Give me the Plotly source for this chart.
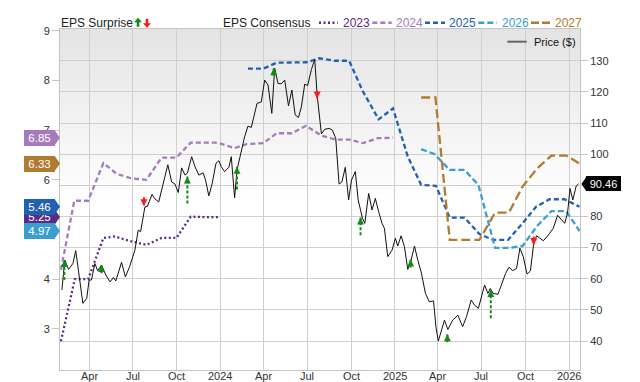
import plotly.graph_objects as go

# ---------------- data ----------------
price_dates = [
    "2023-02-03","2023-02-09","2023-02-17","2023-02-26","2023-03-04","2023-03-10","2023-03-19","2023-03-27",
    "2023-04-01","2023-04-06","2023-04-13","2023-04-19","2023-04-27","2023-05-06","2023-05-15","2023-05-22",
    "2023-05-27","2023-06-08","2023-06-16","2023-06-25","2023-07-06","2023-07-13","2023-07-18","2023-07-27",
    "2023-08-01","2023-08-11","2023-08-16","2023-08-25","2023-09-03","2023-09-13","2023-09-21","2023-09-28",
    "2023-10-05","2023-10-12","2023-10-19","2023-10-24","2023-11-02","2023-11-09","2023-11-17","2023-11-26",
    "2023-12-01","2023-12-08","2023-12-15","2023-12-23","2023-12-29","2024-01-03","2024-01-10","2024-01-19",
    "2024-01-24","2024-01-31","2024-02-05","2024-02-14","2024-02-21","2024-02-28","2024-03-06","2024-03-18",
    "2024-03-27","2024-04-03","2024-04-10","2024-04-18","2024-04-24","2024-05-01","2024-05-08","2024-05-15",
    "2024-05-23","2024-05-30","2024-06-06","2024-06-13","2024-06-19","2024-06-26","2024-07-02","2024-07-10",
    "2024-07-17","2024-07-22","2024-07-31","2024-08-07","2024-08-16","2024-08-23","2024-08-30","2024-09-06",
    "2024-09-12","2024-09-19","2024-09-26","2024-10-02","2024-10-10","2024-10-16","2024-10-25","2024-10-30",
    "2024-11-07","2024-11-14","2024-11-21","2024-11-28","2024-12-05","2024-12-10","2024-12-17","2024-12-26",
    "2025-01-02","2025-01-07","2025-01-14","2025-01-21","2025-01-28","2025-02-04","2025-02-11","2025-02-18",
    "2025-02-25","2025-03-06","2025-03-14","2025-03-23","2025-03-28","2025-04-02","2025-04-08","2025-04-15",
    "2025-04-22","2025-05-02","2025-05-13","2025-05-23","2025-05-31","2025-06-10","2025-06-17","2025-06-25",
    "2025-07-08","2025-07-15","2025-07-20","2025-07-26","2025-08-05","2025-08-21","2025-08-28","2025-09-05",
    "2025-09-13","2025-09-20","2025-09-27","2025-10-05","2025-10-12","2025-10-19","2025-10-25","2025-11-01",
    "2025-11-08","2025-11-17","2025-11-29","2025-12-08","2025-12-15","2025-12-23","2025-12-29","2026-01-03",
    "2026-01-09","2026-01-16","2026-01-21",
]
price_values = [
    56.4, 66.0, 63.0, 64.9, 69.0, 62.8, 52.1, 53.7,
    59.6, 59.6, 64.9, 62.6, 64.4, 61.2, 59.0, 60.4,
    59.3, 65.3, 60.6, 63.9, 69.2, 75.6, 75.1, 83.1,
    83.2, 87.1, 85.8, 84.7, 90.8, 96.6, 91.1, 90.4,
    87.7, 95.6, 93.3, 93.9, 99.2, 96.0, 93.3, 94.0,
    91.7, 86.6, 90.6, 97.1, 97.9, 96.0, 94.4, 95.8,
    99.2, 86.0, 94.9, 101.3, 105.6, 109.0, 108.6, 116.3,
    116.8, 123.8, 122.2, 113.1, 127.6, 122.7, 122.6, 123.8,
    115.5, 120.6, 112.6, 111.8, 115.2, 122.5, 122.0, 127.2,
    130.4, 119.0, 106.5, 108.0, 108.3, 107.7, 105.1, 90.4,
    91.1, 95.8, 85.3, 91.7, 94.4, 85.3, 79.4, 77.8,
    87.4, 82.1, 85.8, 81.5, 77.8, 76.2, 67.1, 69.2,
    73.0, 70.5, 73.8, 70.3, 63.0, 66.0, 70.5, 66.0,
    62.2, 55.3, 52.6, 52.9, 44.6, 40.0, 43.0, 46.7,
    43.7, 46.7, 48.3, 44.6, 47.8, 53.2, 51.5, 50.5,
    58.0, 55.3, 56.9, 55.3, 55.0, 61.7, 63.7, 62.6,
    63.3, 69.8, 67.1, 61.5, 62.5, 71.4, 73.8, 73.0,
    72.2, 73.7, 76.2, 80.4, 79.1, 77.8, 81.2, 89.0,
    85.3, 89.8, 90.46,
]

eps2023_dates = ["2023-02-01","2023-03-02","2023-03-30","2023-05-01","2023-05-25","2023-06-29",
                 "2023-07-30","2023-08-31","2023-10-01","2023-10-31","2023-11-30","2023-12-31"]
eps2023_values = [2.75, 4.00, 4.00, 4.83, 4.86, 4.76, 4.69, 4.83, 4.83, 5.26, 5.25, 5.25]

eps2024_dates = ["2023-02-01","2023-03-01","2023-03-30","2023-05-01","2023-05-29","2023-06-29",
                 "2023-07-30","2023-08-31","2023-10-01","2023-10-31","2023-12-27","2024-01-31",
                 "2024-02-25","2024-03-31","2024-04-28","2024-05-30","2024-06-29","2024-07-31",
                 "2024-08-31","2024-09-28","2024-10-26","2024-11-26","2024-12-28"]
eps2024_values = [4.19, 5.58, 5.58, 6.34, 6.12, 6.03, 6.00, 6.45, 6.45, 6.75, 6.75, 6.64,
                  6.72, 6.74, 6.94, 6.94, 7.09, 6.89, 6.81, 6.81, 6.74, 6.84, 6.85]

eps2025_dates = ["2024-02-28","2024-03-31","2024-04-28","2024-06-30","2024-07-27","2024-08-28",
                 "2024-09-27","2024-10-26","2024-11-28","2024-12-28","2025-01-28","2025-02-25",
                 "2025-03-28","2025-04-26","2025-05-27","2025-06-27","2025-07-26","2025-08-26",
                 "2025-09-26","2025-10-24","2025-11-21","2025-12-22","2026-01-23"]
eps2025_values = [8.24, 8.24, 8.36, 8.37, 8.45, 8.40, 8.40, 7.78, 7.22, 7.44, 6.47, 5.90,
                  5.88, 5.24, 5.24, 4.91, 4.79, 4.79, 5.13, 5.46, 5.61, 5.61, 5.46]

eps2026_dates = ["2025-02-25","2025-03-25","2025-04-26","2025-05-27","2025-06-25","2025-07-30",
                 "2025-08-30","2025-09-26","2025-10-25","2025-11-25","2025-12-26","2026-01-23"]
eps2026_values = [6.62, 6.52, 6.20, 6.20, 5.90, 4.63, 4.63, 4.67, 5.06, 5.37, 5.37, 4.97]

eps2027_dates = ["2025-02-25","2025-03-27","2025-04-26","2025-06-27","2025-07-30","2025-08-28",
                 "2025-09-26","2025-10-27","2025-11-25","2025-12-26","2026-01-23"]
eps2027_values = [7.66, 7.66, 4.79, 4.79, 5.34, 5.34, 5.87, 6.24, 6.49, 6.49, 6.33]

surprise_dates = ["2023-02-08","2023-04-27","2023-07-25","2023-10-24","2024-02-05","2024-04-22",
                  "2024-07-22","2024-10-21","2025-02-03","2025-04-21","2025-07-21","2025-10-19"]
surprise_from = [59.6, 61.8, 86.2, 84.2, 88.7, 125.2, 120.3, 74.0, 63.6, 39.6, 47.3, 73.6]
surprise_to = [66.0, 64.4, 83.3, 92.8, 96.0, 127.6, 117.9, 79.7, 66.2, 42.2, 56.4, 70.8]

x_tick_vals = ["2023-04-01","2023-07-01","2023-10-01","2024-01-01","2024-04-01","2024-07-01",
               "2024-10-01","2025-01-01","2025-04-01","2025-07-01","2025-10-01","2026-01-01"]
x_tick_text = ["Apr","Jul","Oct","2024","Apr","Jul","Oct","2025","Apr","Jul","Oct","2026"]
eps_tick_vals = [3, 4, 5, 6, 7, 8, 9]
eps_tick_text = ["3", "4", "", "6", "7", "8", "9"]        # "5" sits hidden under the badges
price_tick_vals = [40, 50, 60, 70, 80, 90, 100, 110, 120, 130]
price_tick_text = ["40", "50", "60", "70", "80", "", "100", "110", "120", "130"]  # "90" hidden by price badge

# ---------------- style ----------------
C2023, C2024, C2025, C2026, C2027 = "#5b2a85", "#a67bbd", "#2062b0", "#3a9fcf", "#b07b2e"
GREEN, RED = "#138a13", "#ff1a1a"
GRID = "#cfcfcf"
FONT = "Liberation Sans"

L, R, T, B = 60, 60, 29, 12
W, H = 640, 382
PW, PH = W - L - R, H - T - B


def xp(px):
    return (px - L) / PW


def yp(py):
    return (H - B - py) / PH


fig = go.Figure()

series = [
    (eps2023_dates, eps2023_values, C2023, "2px,2.5px"),
    (eps2024_dates, eps2024_values, C2024, "5px,3px"),
    (eps2025_dates, eps2025_values, C2025, "5px,3px"),
    (eps2026_dates, eps2026_values, C2026, "6px,3px"),
    (eps2027_dates, eps2027_values, C2027, "9px,4px"),
]
for d, v, c, dash in series:
    fig.add_trace(go.Scatter(x=d, y=v, mode="lines", yaxis="y",
                             line=dict(color=c, width=2.3, dash=dash), hoverinfo="skip"))

fig.add_trace(go.Scatter(x=price_dates, y=price_values, mode="lines", yaxis="y2",
                         line=dict(color="#111111", width=1), hoverinfo="skip"))

# surprise arrows
for up, color in ((True, GREEN), (False, RED)):
    xs, ys, hx, hy = [], [], [], []
    for d, a, b in zip(surprise_dates, surprise_from, surprise_to):
        if (b > a) == up:
            xs += [d, d, None]
            ys += [a, b, None]
            hx.append(d)
            hy.append(b)
    fig.add_trace(go.Scatter(x=xs, y=ys, mode="lines", yaxis="y2",
                             line=dict(color=color, width=2, dash="3px,2px"), hoverinfo="skip"))
    fig.add_trace(go.Scatter(x=hx, y=hy, mode="markers", yaxis="y2",
                             marker=dict(symbol="arrow-up" if up else "arrow-down", size=7,
                                         color=color, line=dict(width=0)), hoverinfo="skip"))

shapes = []
# background gradient (top grey to white)
N = 34
for i in range(N):
    y0 = 0.5 + i * 0.5 / N
    g = round(255 - (255 - 228) * (i + 1) / N)
    shapes.append(dict(type="rect", xref="paper", yref="paper", x0=0, x1=1, y0=y0, y1=y0 + 0.5 / N + 0.002,
                       fillcolor=f"rgb({g},{g},{g})", line=dict(width=0), layer="below"))

annotations = []

# x tick labels (placed just under the plot edge)
for tv, tt in zip(x_tick_vals, x_tick_text):
    annotations.append(dict(x=tv, y=0, xref="x", yref="paper", xanchor="center", yanchor="top",
                            yshift=2, text=tt, showarrow=False, font=dict(size=11, color="#333")))

# top legend
ly = yp(22.7)
annotations.append(dict(x=xp(59), y=ly, xref="paper", yref="paper", xanchor="left", yanchor="middle",
                        text="EPS Surprise", showarrow=False, font=dict(size=12, color="#222")))
annotations.append(dict(x=xp(221), y=ly, xref="paper", yref="paper", xanchor="left", yanchor="middle",
                        text="EPS Consensus", showarrow=False, font=dict(size=12, color="#222")))
up_path = "M -4,0.5 L 0,5 L 4,0.5 L 1.3,0.5 L 1.3,-4 L -1.3,-4 L -1.3,0.5 Z"
down_path = "M -4,-0.5 L 0,-5 L 4,-0.5 L 1.3,-0.5 L 1.3,4 L -1.3,4 L -1.3,-0.5 Z"
for cx, pth, col in ((138, up_path, GREEN), (147, down_path, RED)):
    shapes.append(dict(type="path", xref="paper", yref="paper", xsizemode="pixel", ysizemode="pixel",
                       xanchor=xp(cx), yanchor=ly, path=pth, fillcolor=col, line=dict(width=0)))

legend_items = [
    ("2023", C2023, "2px,2.5px", 319, 337.7, 341),
    ("2024", C2024, "5px,3px", 372.3, 391.7, 394),
    ("2025", C2025, "5px,3px", 425, 445, 447),
    ("2026", C2026, "6px,3px", 478.3, 496.7, 500),
    ("2027", C2027, "8px,3px", 531, 550, 553),
]
for name, col, dash, a, b, tx in legend_items:
    shapes.append(dict(type="line", xref="paper", yref="paper", x0=xp(a), x1=xp(b), y0=ly, y1=ly,
                       line=dict(color=col, width=2.5, dash=dash)))
    annotations.append(dict(x=xp(tx), y=ly, xref="paper", yref="paper", xanchor="left", yanchor="middle",
                            text=name, showarrow=False, font=dict(size=12, color=col)))

# price legend inside plot
pl_y = yp(41.7)
shapes.append(dict(type="line", xref="paper", yref="paper", x0=xp(507.3), x1=xp(526.7), y0=pl_y, y1=pl_y,
                   line=dict(color="#666", width=2)))
annotations.append(dict(x=xp(531.5), y=pl_y, xref="paper", yref="paper", xanchor="left", yanchor="middle",
                        text="Price ($)", showarrow=False, font=dict(size=11, color="#111")))

# left value badges (latest consensus values)
badges = [
    (eps2024_values[-1], C2024),
    (eps2027_values[-1], C2027),
    (eps2023_values[-1], C2023),
    (eps2025_values[-1], C2025),
    (eps2026_values[-1], C2026),
]
for v, col in badges:
    shapes.append(dict(type="path", xref="paper", yref="y", xsizemode="pixel", ysizemode="pixel",
                       xanchor=0, yanchor=v, path="M -5.5,7.8 L 0,0 L -5.5,-7.8 Z",
                       fillcolor=col, line=dict(width=0), layer="above"))
    annotations.append(dict(x=0, y=v, xref="paper", yref="y", xanchor="right", yanchor="middle",
                            xshift=-5, text=f"{v:.2f}", showarrow=False, bgcolor=col,
                            width=31, height=15.6, borderpad=0, borderwidth=0, align="center",
                            font=dict(size=11.5, color="white")))

# right price badge
pv = price_values[-1]
shapes.append(dict(type="path", xref="paper", yref="y2", xsizemode="pixel", ysizemode="pixel",
                   xanchor=1, yanchor=pv, path="M 6.5,7.5 L 1.5,0 L 6.5,-7.5 Z",
                   fillcolor="black", line=dict(width=0), layer="above"))
annotations.append(dict(x=1, y=pv, xref="paper", yref="y2", xanchor="left", yanchor="middle",
                        xshift=6, text=f"{pv:.2f}", showarrow=False, bgcolor="black",
                        width=35, height=15, borderpad=0, borderwidth=0, align="center",
                        font=dict(size=11, color="white")))

fig.update_layout(
    width=W, height=H,
    margin=dict(l=L, r=R, t=T, b=B, pad=0, autoexpand=False),
    paper_bgcolor="white", plot_bgcolor="white",
    showlegend=False,
    font=dict(family=FONT, size=11, color="#333"),
    xaxis=dict(type="date", range=["2023-01-30", "2026-01-24"], tickvals=x_tick_vals, ticktext=x_tick_text,
               showticklabels=False,
               showgrid=True, gridcolor=GRID, gridwidth=1, ticks="", showline=True, linecolor="#c4c4c4",
               mirror=True, zeroline=False, automargin=False),
    yaxis=dict(range=[2.17, 9.04], tickvals=eps_tick_vals, ticktext=eps_tick_text, showgrid=False,
               ticks="outside", ticklen=7, automargin=False,
               tickcolor="#c4c4c4", showline=True, linecolor="#c4c4c4", zeroline=False,
               tickfont=dict(size=11, color="#333")),
    yaxis2=dict(range=[30.7, 140.2], tickvals=price_tick_vals, ticktext=price_tick_text, overlaying="y",
                side="right", automargin=False,
                showgrid=True, gridcolor=GRID, gridwidth=1, ticks="outside", ticklen=7,
                tickcolor="#c4c4c4", showline=True, linecolor="#c4c4c4", zeroline=False,
                tickfont=dict(size=11, color="#333")),
    shapes=shapes,
    annotations=annotations,
)

fig.write_html("out.html")
